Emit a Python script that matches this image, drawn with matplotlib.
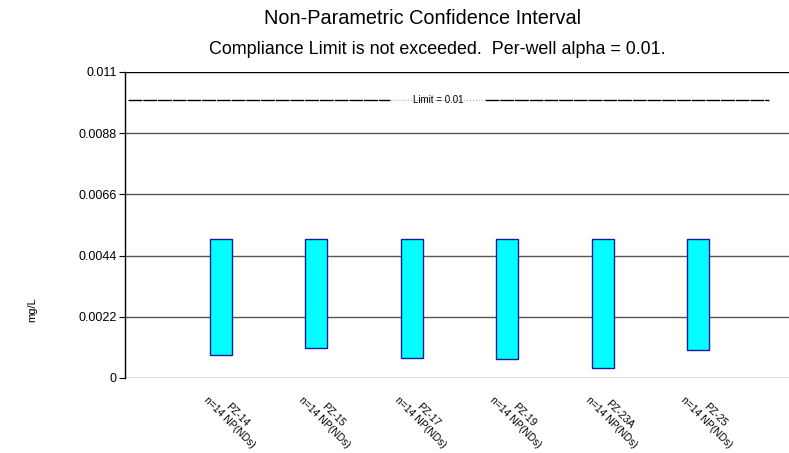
import matplotlib
matplotlib.use('Agg')
import matplotlib.pyplot as plt
from matplotlib.transforms import ScaledTranslation

plt.rcParams['font.family'] = ['Liberation Sans', 'DejaVu Sans']

# data
wells = ['PZ-14', 'PZ-15', 'PZ-17', 'PZ-19', 'PZ-23A', 'PZ-25']
n_obs = [14, 14, 14, 14, 14, 14]
upper = [0.0050, 0.0050, 0.0050, 0.0050, 0.0050, 0.0050]
lower = [0.00083, 0.00108, 0.00072, 0.00068, 0.00036, 0.00101]
limit = 0.01
y_ticks = [0, 0.0022, 0.0044, 0.0066, 0.0088, 0.011]
y_tick_labels = ['0', '0.0022', '0.0044', '0.0066', '0.0088', '0.011']

fig = plt.figure(figsize=(7.89, 4.53), dpi=100)
ax = fig.add_axes([0.1584, 0.1656, 0.8416, 0.6755])

x = list(range(1, len(wells) + 1))

# gridlines
for t in y_ticks:
    ax.axhline(t, color='black' if t == y_ticks[-1] else '#555555', lw=1, zorder=1)

heights = [u - l for u, l in zip(upper, lower)]
ax.bar(x, heights, bottom=lower, width=0.23, color='#00FFFF',
       edgecolor='#1a1a9a', linewidth=1, zorder=3)

# limit line with label
ax.plot([0.03, 2.77], [limit, limit], color='black', lw=1, dashes=(10, 0.6), zorder=2)
ax.plot([3.77, 6.74], [limit, limit], color='black', lw=1, dashes=(10, 0.6), zorder=2)
ax.plot([2.77, 3.77], [limit, limit], color='#aaaaaa', lw=0.8, ls=':', zorder=2)
ax.text(3.28, limit, 'Limit = 0.01', fontsize=7, ha='center', va='center', zorder=4)

ax.set_xlim(0, 6.95)
ax.set_ylim(0, 0.011)
ax.set_yticks(y_ticks)
ax.set_yticklabels(y_tick_labels, fontsize=9)
ax.set_xticks(x)
ax.set_xticklabels([f'{w}\nn={n} NP(NDs)' for w, n in zip(wells, n_obs)],
                   rotation=-45, rotation_mode='anchor', ha='left', va='center',
                   fontsize=7.5, multialignment='center')
ax.tick_params(axis='x', length=0, pad=12)
ax.tick_params(axis='y', length=4, direction='out', pad=2)

# nudge the category labels a little to the left
shift = ScaledTranslation(-8 / 72, 0, fig.dpi_scale_trans)
for lbl in ax.get_xticklabels():
    lbl.set_transform(lbl.get_transform() + shift)

for side in ['top', 'right', 'bottom']:
    ax.spines[side].set_visible(False)
ax.spines['left'].set_linewidth(1)

fig.text(423 / 789, 1 - 18 / 453, 'Non-Parametric Confidence Interval',
         fontsize=14.3, ha='center', va='center')
fig.text(437 / 789, 1 - 49 / 453,
         'Compliance Limit is not exceeded.  Per-well alpha = 0.01.',
         fontsize=12.9, ha='center', va='center')
fig.text(32 / 789, 1 - 310 / 453, 'mg/L', fontsize=8, rotation=90,
         ha='center', va='center')

fig.savefig('out.png', dpi=100)
